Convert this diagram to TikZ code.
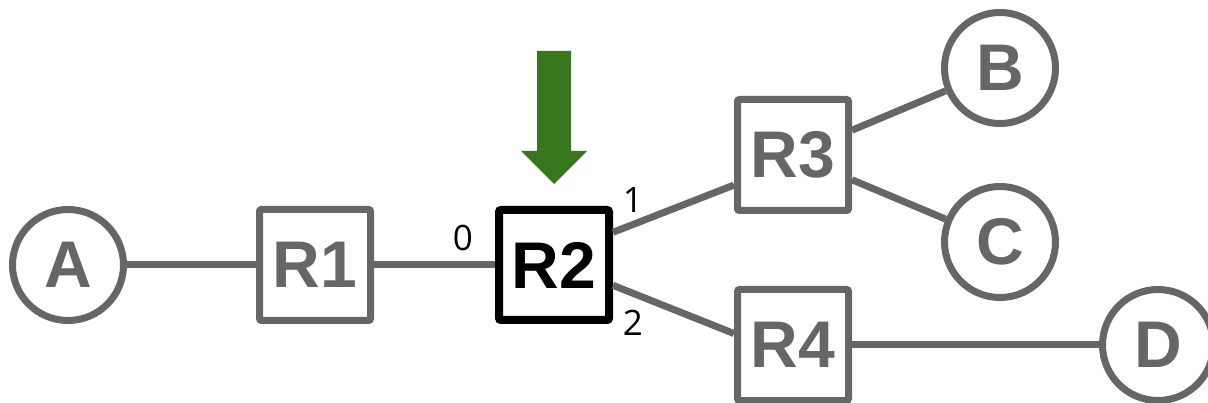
\documentclass[tikz,border=0pt]{standalone}
\usepackage{fontspec}
\setmainfont{Liberation Sans}
\newfontfamily\portfont{Open Sans}
\definecolor{LinkClr}{RGB}{102,102,102}
\definecolor{ArrowClr}{RGB}{56,118,29}

\begin{document}
\begin{tikzpicture}[x=1pt,y=-1pt,
  host/.style={circle,draw=LinkClr,line width=7pt,text=LinkClr,minimum size=111pt,
    inner sep=0pt,font=\fontsize{66}{66}\selectfont\bfseries},
  router/.style={rectangle,rounded corners=2pt,draw=LinkClr,line width=7pt,text=LinkClr,
    minimum size=111pt,inner sep=0pt,font=\fontsize{66}{66}\selectfont\bfseries},
  link/.style={draw=LinkClr,line width=7pt},
  port/.style={font=\portfont\fontsize{35}{35}\selectfont,inner sep=0pt}]
\useasboundingbox (0,0) rectangle (1208,403);

\node[host] (A) at (68,265) {A};
\node[router] (R1) at (315,265) {R1};
\node[router,draw=black,text=black,line width=8pt,minimum size=110pt] (R2) at (554,265) {R2};
\node[router] (R3) at (793,155) {R3};
\node[router] (R4) at (793,345) {R4};
\node[host] (B) at (1000,68) {B};
\node[host] (C) at (1000,242) {C};
\node[host] (D) at (1158,345) {D};

\draw[link] (A) -- (R1);
\draw[link] (R1) -- (R2);
\draw[link] (R2.29) -- (R3.207);
\draw[link] (R2.-19) -- (R4.169);
\draw[link] (R3) -- (B);
\draw[link] (R3) -- (C);
\draw[link] (R4) -- (D);

% port numbers on R2
\node[port] (p0) at (463,238) {0};
\node[port] (p1) at (633,200) {1};
\node[port] (p2) at (633,323) {2};

\fill[ArrowClr] (537,51) -- (571,51) -- (571,151) -- (587,151) -- (554,184)
  -- (521,151) -- (537,151) -- cycle;

\end{tikzpicture}
\end{document}
